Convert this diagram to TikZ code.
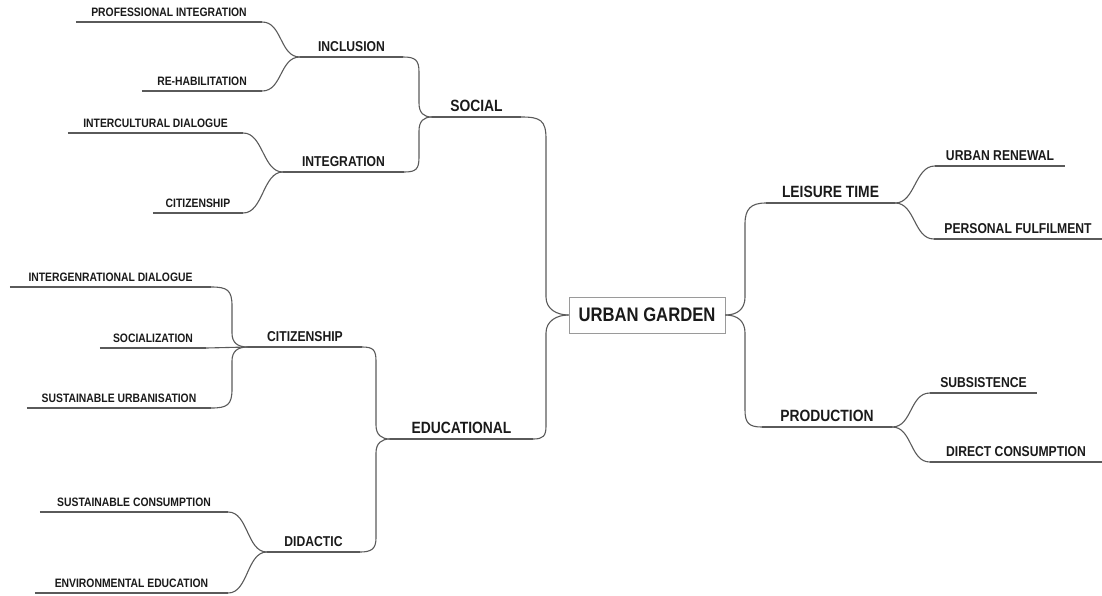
\documentclass[tikz,border=0pt]{standalone}
\usepackage{fontspec}
\setmainfont{Liberation Sans}[FakeStretch=0.85]
\definecolor{lc}{HTML}{5A5A5A}
\definecolor{tc}{HTML}{1A1A1A}
\definecolor{bc}{HTML}{9A9A9A}
\tikzset{
  ln/.style={draw=lc, line width=1.1pt},
  lab/.style={anchor=south, inner xsep=0pt, inner ysep=5pt, text depth=0pt, text=tc, align=center},
  lone/.style={lab, font=\fontsize{16.3}{17}\selectfont\bfseries},
  ltwo/.style={lab, font=\fontsize{14.3}{15}\selectfont\bfseries},
  lthree/.style={lab, font=\fontsize{12.2}{13}\selectfont\bfseries},
  rootbox/.style={draw=bc, line width=0.8pt, minimum width=156pt, minimum height=36pt, inner sep=0pt, text=tc, font=\fontsize{19.6}{20}\selectfont\bfseries}
}
\begin{document}
\begin{tikzpicture}[x=1pt,y=-1pt]
\useasboundingbox (0,0) rectangle (1102,595);
% ---------- nodes ----------
\node[rootbox] (ug) at (647,315) {URBAN GARDEN};
% social branch
\node[lthree, minimum width=186pt] (pi) at (169,22) {PROFESSIONAL INTEGRATION};
\node[lthree, minimum width=120pt] (rh) at (202,91) {RE-HABILITATION};
\node[ltwo, minimum width=103pt] (inc) at (351.5,57) {INCLUSION};
\node[lthree, minimum width=175pt] (ic) at (155.5,133) {INTERCULTURAL DIALOGUE};
\node[lthree, minimum width=90pt] (ct) at (198,213) {CITIZENSHIP};
\node[ltwo, minimum width=121pt] (int) at (343.5,172) {INTEGRATION};
\node[lone, minimum width=89pt] (soc) at (476.5,117) {SOCIAL};
% educational branch
\node[lthree, minimum width=201pt] (ig) at (110.5,287) {INTERGENRATIONAL DIALOGUE};
\node[lthree, minimum width=106pt] (soz) at (153,348) {SOCIALIZATION};
\node[lthree, minimum width=184pt] (su) at (119,408) {SUSTAINABLE URBANISATION};
\node[ltwo, minimum width=114pt] (cit) at (305,347) {CITIZENSHIP};
\node[lthree, minimum width=188pt] (sc) at (134,512) {SUSTAINABLE CONSUMPTION};
\node[lthree, minimum width=193pt] (ee) at (131.5,593) {ENVIRONMENTAL EDUCATION};
\node[ltwo, minimum width=93pt] (did) at (313.5,552) {DIDACTIC};
\node[lone, minimum width=143pt] (edu) at (461.5,439) {EDUCATIONAL};
% right side
\node[lone, minimum width=129pt] (lei) at (830.5,203) {LEISURE TIME};
\node[lone, minimum width=130pt] (pro) at (827,427) {PRODUCTION};
\node[ltwo, minimum width=130pt] (ur) at (1000,166) {URBAN RENEWAL};
\node[ltwo, minimum width=168pt] (pf) at (1018,239) {PERSONAL FULFILMENT};
\node[ltwo, minimum width=107pt] (sub) at (983.5,393) {SUBSISTENCE};
\node[ltwo, minimum width=172pt] (dc) at (1016,462) {DIRECT CONSUMPTION};
% ---------- underlines ----------
\foreach \n in {pi,rh,inc,ic,ct,int,soc,ig,soz,su,cit,sc,ee,did,edu,lei,pro,ur,pf,sub,dc}
  \draw[ln] (\n.south west) -- (\n.south east);
% ---------- connectors ----------
% S-curves
\draw[ln] (pi.south east) .. controls +(20,0) and +(-20,0) .. (inc.south west);
\draw[ln] (rh.south east) .. controls +(20,0) and +(-20,0) .. (inc.south west);
\draw[ln] (ic.south east) .. controls +(20,0) and +(-20,0) .. (int.south west);
\draw[ln] (ct.south east) .. controls +(20,0) and +(-20,0) .. (int.south west);
\draw[ln] (sc.south east) .. controls +(20,0) and +(-20,0) .. (did.south west);
\draw[ln] (ee.south east) .. controls +(20,0) and +(-20,0) .. (did.south west);
\draw[ln] (lei.south east) .. controls +(20,0) and +(-20,0) .. (ur.south west);
\draw[ln] (lei.south east) .. controls +(20,0) and +(-20,0) .. (pf.south west);
\draw[ln] (pro.south east) .. controls +(20,0) and +(-20,0) .. (sub.south west);
\draw[ln] (pro.south east) .. controls +(20,0) and +(-20,0) .. (dc.south west);
% social brackets
\draw[ln] (inc.south east) .. controls +(12,0) and +(0,-12) .. (419,72) -- (419,103) .. controls +(0,10) and +(-8,0) .. (soc.south west);
\draw[ln] (int.south east) .. controls +(12,0) and +(0,12) .. (419,157) -- (419,131) .. controls +(0,-10) and +(-8,0) .. (soc.south west);
% main left
\draw[ln] (soc.south east) .. controls +(19,0) and +(0,-19) .. (546,139) -- (546,297) .. controls +(0,12) and +(-12,0) .. (ug.west);
\draw[ln] (edu.south east) .. controls +(10,0) and +(0,10) .. (546,426) -- (546,333) .. controls +(0,-12) and +(-12,0) .. (ug.west);
% main right
\draw[ln] (ug.east) .. controls +(12,0) and +(0,12) .. (745,297) -- (745,224) .. controls +(0,-15) and +(-15,0) .. (lei.south west);
\draw[ln] (ug.east) .. controls +(12,0) and +(0,-12) .. (745,333) -- (745,410) .. controls +(0,13) and +(-13,0) .. (pro.south west);
% educational brackets
\draw[ln] (cit.south east) .. controls +(11,0) and +(0,-11) .. (376,361) -- (376,425) .. controls +(0,10) and +(-8,0) .. (edu.south west);
\draw[ln] (did.south east) .. controls +(11,0) and +(0,11) .. (376,538) -- (376,453) .. controls +(0,-10) and +(-8,0) .. (edu.south west);
% citizenship brackets
\draw[ln] (ig.south east) .. controls +(16,0) and +(0,-16) .. (232,306) -- (232,333) .. controls +(0,10) and +(-10,0) .. (cit.south west);
\draw[ln] (soz.south east) -- (cit.south west);
\draw[ln] (su.south east) .. controls +(16,0) and +(0,16) .. (232,389) -- (232,361) .. controls +(0,-10) and +(-10,0) .. (cit.south west);
\end{tikzpicture}
\end{document}
